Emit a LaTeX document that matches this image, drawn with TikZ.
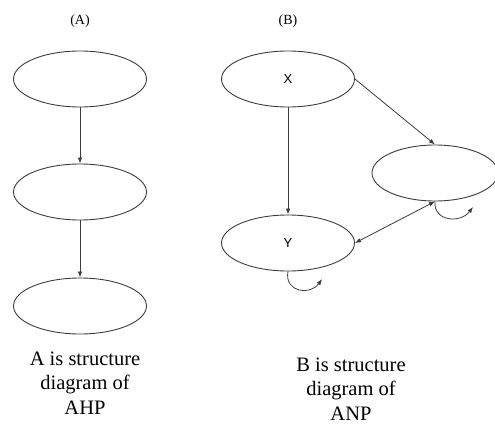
\documentclass[tikz,border=0pt]{standalone}
\usepackage{fontspec}
\setmainfont{Liberation Serif}
\newfontfamily\lettersans{Liberation Sans}
\usepackage{tikz}
\usetikzlibrary{arrows.meta,positioning,shapes.geometric}
\definecolor{StructLine}{RGB}{60, 60, 60}

\tikzset{
    crit/.style={ellipse, draw=StructLine, line width=0.9pt, minimum width=133pt, minimum height=56pt, inner sep=0pt},
    link/.style={draw=StructLine, line width=0.8pt, -{Latex[length=6pt,width=4.5pt]}},
    caption/.style={align=center, font=\fontsize{20.5}{24.5}\selectfont}
}

\begin{document}
\begin{tikzpicture}[x=1pt, y=-1pt]
\useasboundingbox (0,0) rectangle (495,430);
% panel labels
\node (labA) at (80,21) {\fontsize{14}{16}\selectfont (A)};
\node (labB) at (288,21) {\fontsize{14}{16}\selectfont (B)};
% A: AHP hierarchy
\node[crit] (a1) at (80,79) {};
\node[crit] (a2) at (80,192) {};
\node[crit] (a3) at (80,306) {};
\draw[link] (a1) -- (a2);
\draw[link] (a2) -- (a3);
% B: ANP network
\node[crit] (x) at (288,79) {\lettersans\fontsize{13}{15}\selectfont X};
\node[crit] (y) at (288,243) {\lettersans\fontsize{13}{15}\selectfont Y};
\node[crit, minimum width=126pt] (r) at (435,173) {};
\draw[link] (x) -- (y);
\draw[link] (x.east) -- (r.north);
\draw[link, {Latex[length=6pt,width=4.5pt]}-{Latex[length=6pt,width=4.5pt]}] (y.east) -- (r.south);
% self loops
\coordinate (yloop) at (322,279);
\coordinate (rloop) at (473,207);
\draw[link] (y.south) .. controls (284,292) and (310,296) .. (yloop);
\draw[link] (r.south) .. controls (433,221) and (460,224) .. (rloop);
% captions
\node[caption] (capA) at (85,383) {A is structure\\diagram of\\AHP};
\node[caption] (capB) at (351,389) {B is structure\\diagram of\\ANP};
\end{tikzpicture}
\end{document}
